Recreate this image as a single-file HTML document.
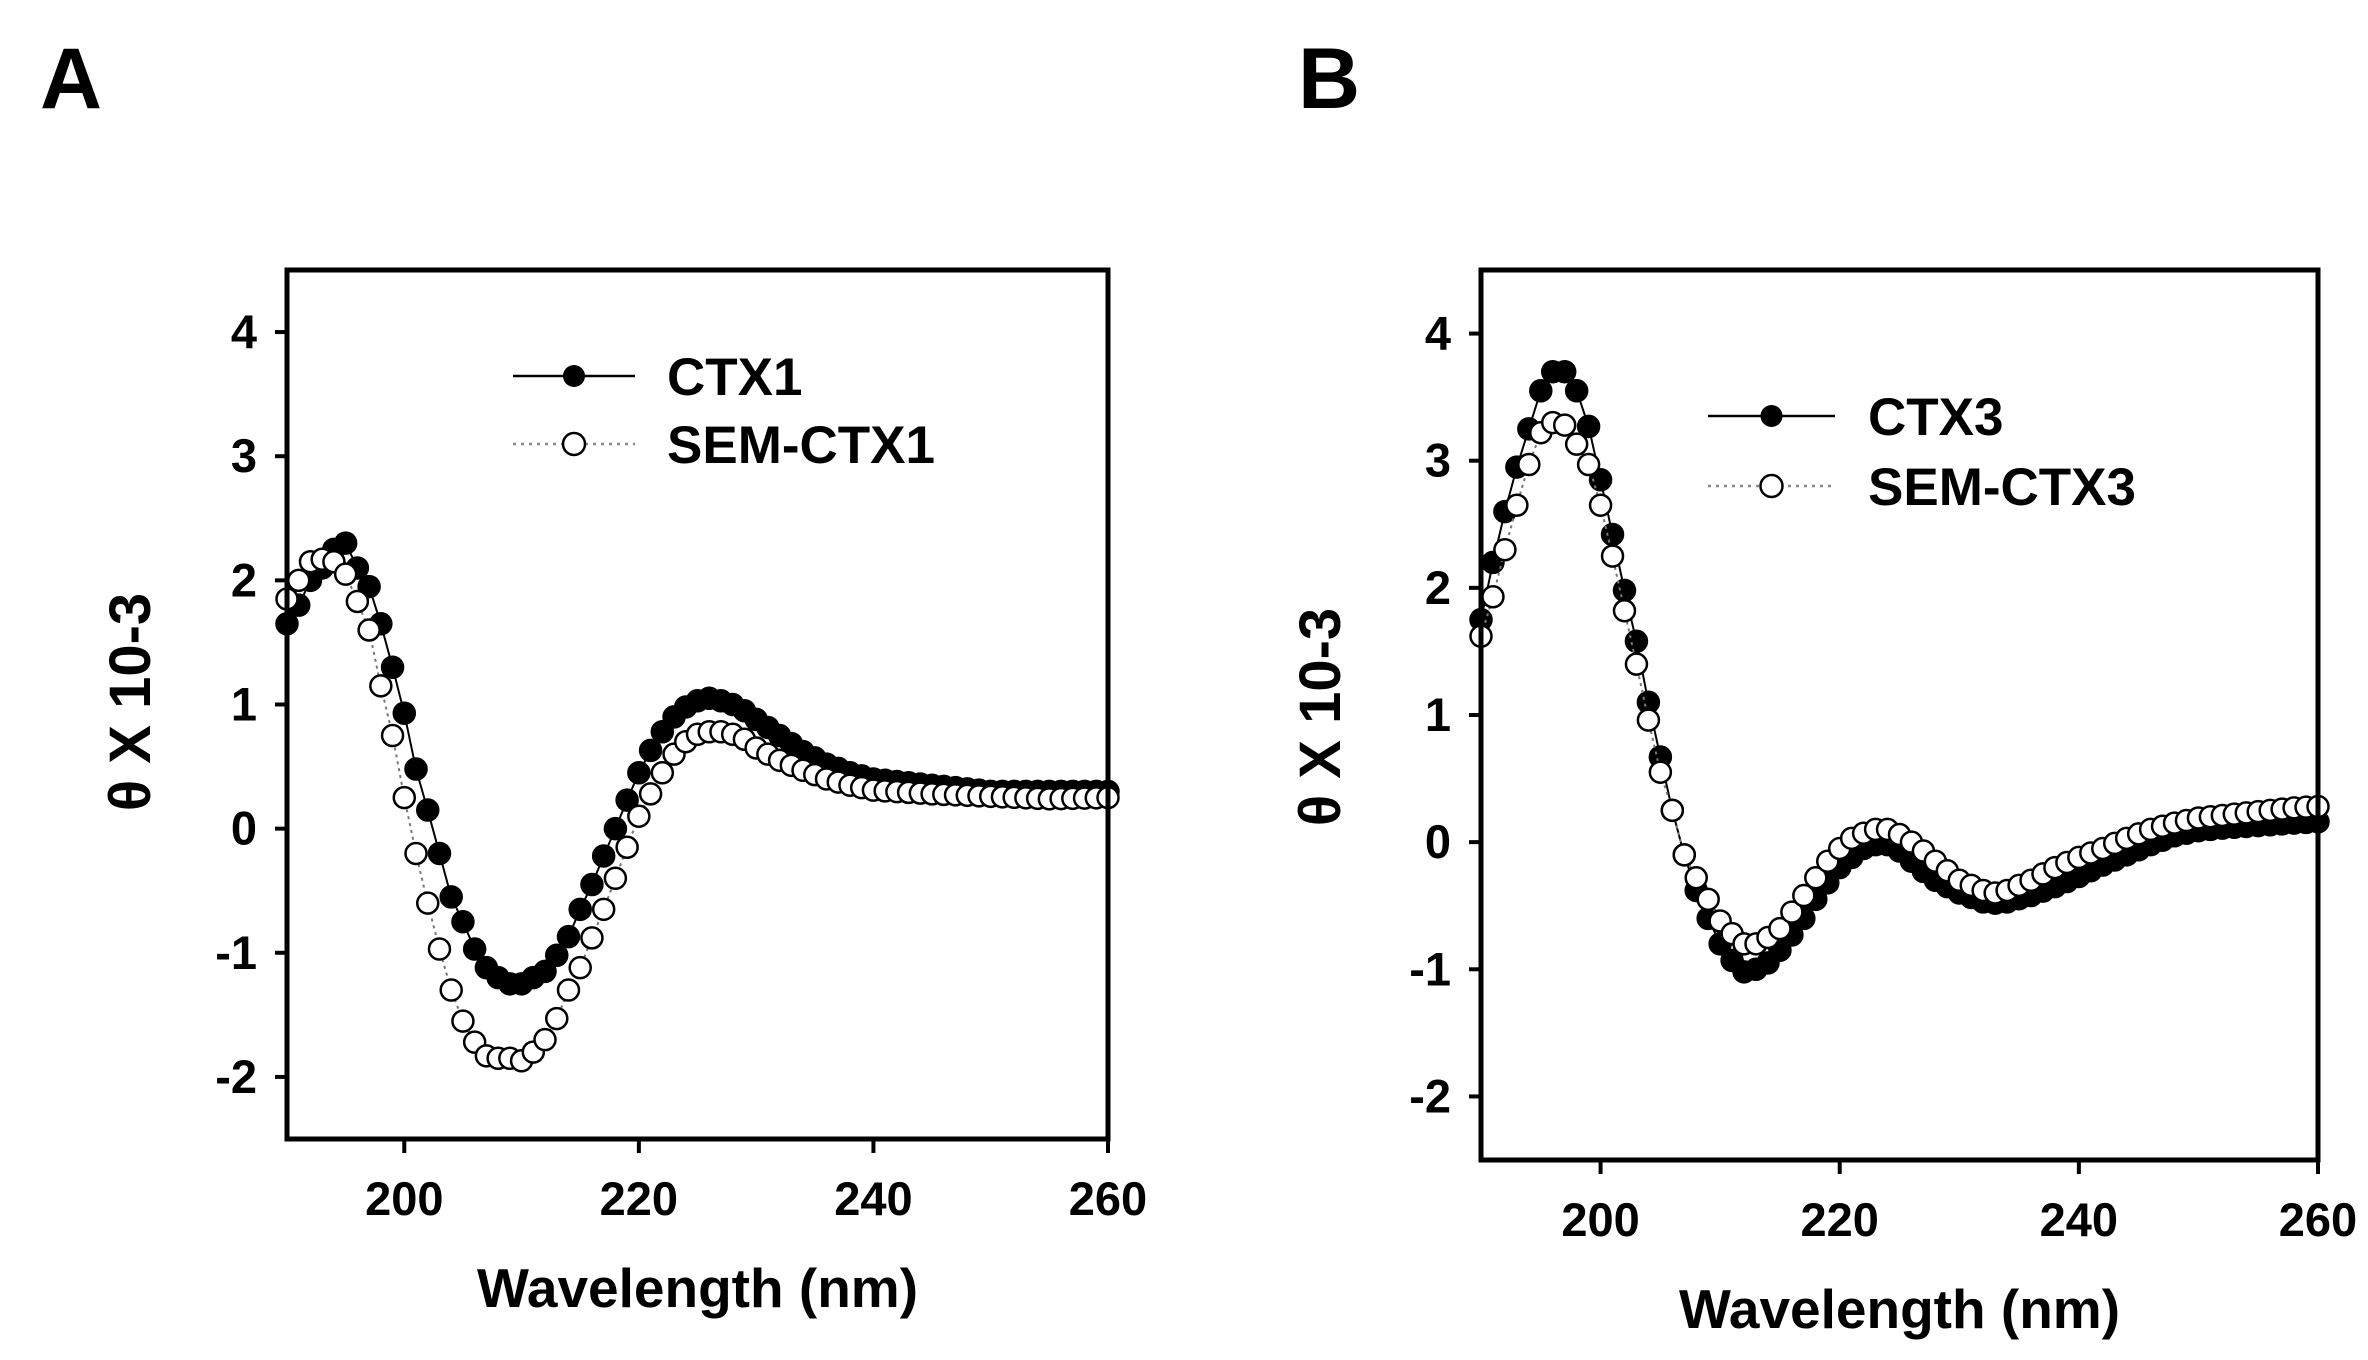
<!DOCTYPE html>
<html><head><meta charset="utf-8"><style>
html,body{margin:0;padding:0;background:#fff;}
svg{display:block;font-family:"Liberation Sans",Arial,sans-serif;font-weight:bold;}
</style></head><body>
<svg id="s" width="2368" height="1360" viewBox="0 0 2368 1360" xmlns="http://www.w3.org/2000/svg">
<text x="40" y="108" font-size="86">A</text>
<text x="1298" y="108" font-size="86">B</text>
</svg>
<script>
var NS="http://www.w3.org/2000/svg",S=document.getElementById('s');
function el(t,a,txt){var e=document.createElementNS(NS,t);for(var k in a)e.setAttribute(k,a[k]);if(txt!==undefined)e.textContent=txt;S.appendChild(e);return e;}
function interp(pts){var xs=Object.keys(pts).map(Number).sort(function(a,b){return a-b});var out=[];
for(var x=190;x<=260;x++){var i=0;while(i<xs.length-1&&xs[i+1]<x)i++;var x0=xs[i],x1=xs[Math.min(i+1,xs.length-1)];
var v=(x1==x0)?pts[x0]:pts[x0]+(pts[x1]-pts[x0])*(x-x0)/(x1-x0);out.push([x,v]);}return out;}
function panel(P){
 var X=function(w){return P.l+(w-190)*(P.r-P.l)/70},Y=function(v){return P.t+(4.5-v)*(P.b-P.t)/7};
 P.series.forEach(function(sr){var d=interp(sr.pts);var s="";d.forEach(function(p,i){s+=(i?"L":"M")+X(p[0]).toFixed(1)+","+Y(p[1]).toFixed(1)});
  el('path',{d:s,fill:'none',stroke:sr.fill?'#000':'#777','stroke-width':2,'stroke-dasharray':sr.fill?'':'3,4'});
  d.forEach(function(p){el('circle',{cx:X(p[0]),cy:Y(p[1]),r:10.5,fill:sr.fill?'#000':'#fff',stroke:'#000','stroke-width':2.5});});
 });
 el('rect',{x:P.l,y:P.t,width:P.r-P.l,height:P.b-P.t,fill:'none',stroke:'#000','stroke-width':5});
 [200,220,240,260].forEach(function(w){el('line',{x1:X(w),x2:X(w),y1:P.b,y2:P.b+14,stroke:'#000','stroke-width':4});
  el('text',{x:X(w),y:P.b+76,'font-size':47,'text-anchor':'middle'},String(w));});
 [-2,-1,0,1,2,3,4].forEach(function(v){el('line',{x1:P.l-12,x2:P.l,y1:Y(v),y2:Y(v),stroke:'#000','stroke-width':4});
  el('text',{x:P.l-30,y:Y(v)+16,'font-size':47,'text-anchor':'end'},String(v));});
 el('text',{x:(P.l+P.r)/2,y:P.b+168,'font-size':55,'text-anchor':'middle'},'Wavelength (nm)');
 el('text',{x:0,y:0,'font-size':58,'text-anchor':'middle',transform:'translate('+P.yl[0]+','+P.yl[1]+') rotate(-90)'},'\u03B8 X 10-3');
 var L=P.leg;
 el('line',{x1:L.x1,x2:L.x2,y1:L.y1,y2:L.y1,stroke:'#000','stroke-width':2.5});
 el('circle',{cx:(L.x1+L.x2)/2,cy:L.y1,r:11,fill:'#000'});
 el('line',{x1:L.x1,x2:L.x2,y1:L.y2,y2:L.y2,stroke:'#888','stroke-width':2.5,'stroke-dasharray':'3,5'});
 el('circle',{cx:(L.x1+L.x2)/2,cy:L.y2,r:11,fill:'#fff',stroke:'#000','stroke-width':2.5});
 el('text',{x:L.tx,y:L.y1+19,'font-size':53},L.n1);
 el('text',{x:L.tx,y:L.y2+19,'font-size':53},L.n2);
}
panel({l:287,r:1108,t:270,b:1139,yl:[150,702],
 leg:{x1:513,x2:635,y1:376,y2:444,tx:667,n1:'CTX1',n2:'SEM-CTX1'},
 series:[
 {fill:true,pts:{190:1.65,191:1.8,192:2.0,193:2.1,194:2.25,195:2.3,196:2.1,197:1.95,198:1.65,199:1.3,200:0.93,201:0.48,202:0.15,203:-0.2,204:-0.55,205:-0.75,206:-0.97,207:-1.12,208:-1.2,209:-1.25,210:-1.25,211:-1.2,212:-1.15,213:-1.02,214:-0.87,215:-0.65,216:-0.45,217:-0.22,218:0.0,219:0.23,220:0.45,221:0.63,222:0.78,223:0.9,224:0.98,225:1.03,226:1.05,227:1.03,228:1.0,229:0.95,230:0.88,232:0.75,234:0.62,236:0.52,238:0.45,240:0.4,245:0.35,250:0.3,255:0.3,260:0.3}},
 {fill:false,pts:{190:1.85,191:2.0,192:2.15,193:2.17,194:2.15,195:2.05,196:1.83,197:1.6,198:1.15,199:0.75,200:0.25,201:-0.2,202:-0.6,203:-0.97,204:-1.3,205:-1.55,206:-1.72,207:-1.83,208:-1.85,209:-1.85,210:-1.87,211:-1.8,212:-1.7,213:-1.53,214:-1.3,215:-1.12,216:-0.88,217:-0.65,218:-0.4,219:-0.15,220:0.1,221:0.28,222:0.45,223:0.6,224:0.7,225:0.76,226:0.78,227:0.78,228:0.76,229:0.72,230:0.65,232:0.55,234:0.47,236:0.4,238:0.35,240:0.31,245:0.28,250:0.26,255:0.24,260:0.25}}]});
panel({l:1481,r:2318,t:270,b:1160,yl:[1340,717],
 leg:{x1:1708,x2:1835,y1:416,y2:486,tx:1868,n1:'CTX3',n2:'SEM-CTX3'},
 series:[
 {fill:true,pts:{190:1.75,191:2.2,192:2.6,193:2.95,194:3.25,195:3.55,196:3.7,197:3.7,198:3.55,199:3.27,200:2.85,201:2.42,202:1.98,203:1.58,204:1.1,205:0.67,206:0.25,207:-0.1,208:-0.38,209:-0.6,210:-0.8,211:-0.93,212:-1.02,213:-1.0,214:-0.95,215:-0.85,216:-0.73,217:-0.6,218:-0.45,219:-0.32,220:-0.2,221:-0.12,222:-0.05,223:-0.02,224:-0.02,225:-0.07,226:-0.15,227:-0.23,228:-0.3,230:-0.4,232:-0.47,233:-0.48,234:-0.47,236:-0.42,238:-0.35,240:-0.27,242:-0.18,244:-0.1,246:-0.02,248:0.05,250:0.09,252:0.11,255:0.13,258:0.15,260:0.16}},
 {fill:false,pts:{190:1.62,191:1.93,192:2.3,193:2.65,194:2.97,195:3.22,196:3.3,197:3.28,198:3.13,199:2.97,200:2.65,201:2.25,202:1.82,203:1.4,204:0.96,205:0.55,206:0.25,207:-0.1,208:-0.28,209:-0.45,210:-0.62,211:-0.72,212:-0.8,213:-0.8,214:-0.75,215:-0.68,216:-0.55,217:-0.42,218:-0.28,219:-0.15,220:-0.05,221:0.03,222:0.07,223:0.1,224:0.1,225:0.06,226:0.0,227:-0.07,228:-0.15,230:-0.3,232:-0.38,233:-0.4,234:-0.38,236:-0.3,238:-0.2,240:-0.12,242:-0.05,244:0.03,246:0.1,248:0.15,250:0.19,252:0.21,255:0.24,258:0.27,260:0.28}}]});
</script>
</body></html>
